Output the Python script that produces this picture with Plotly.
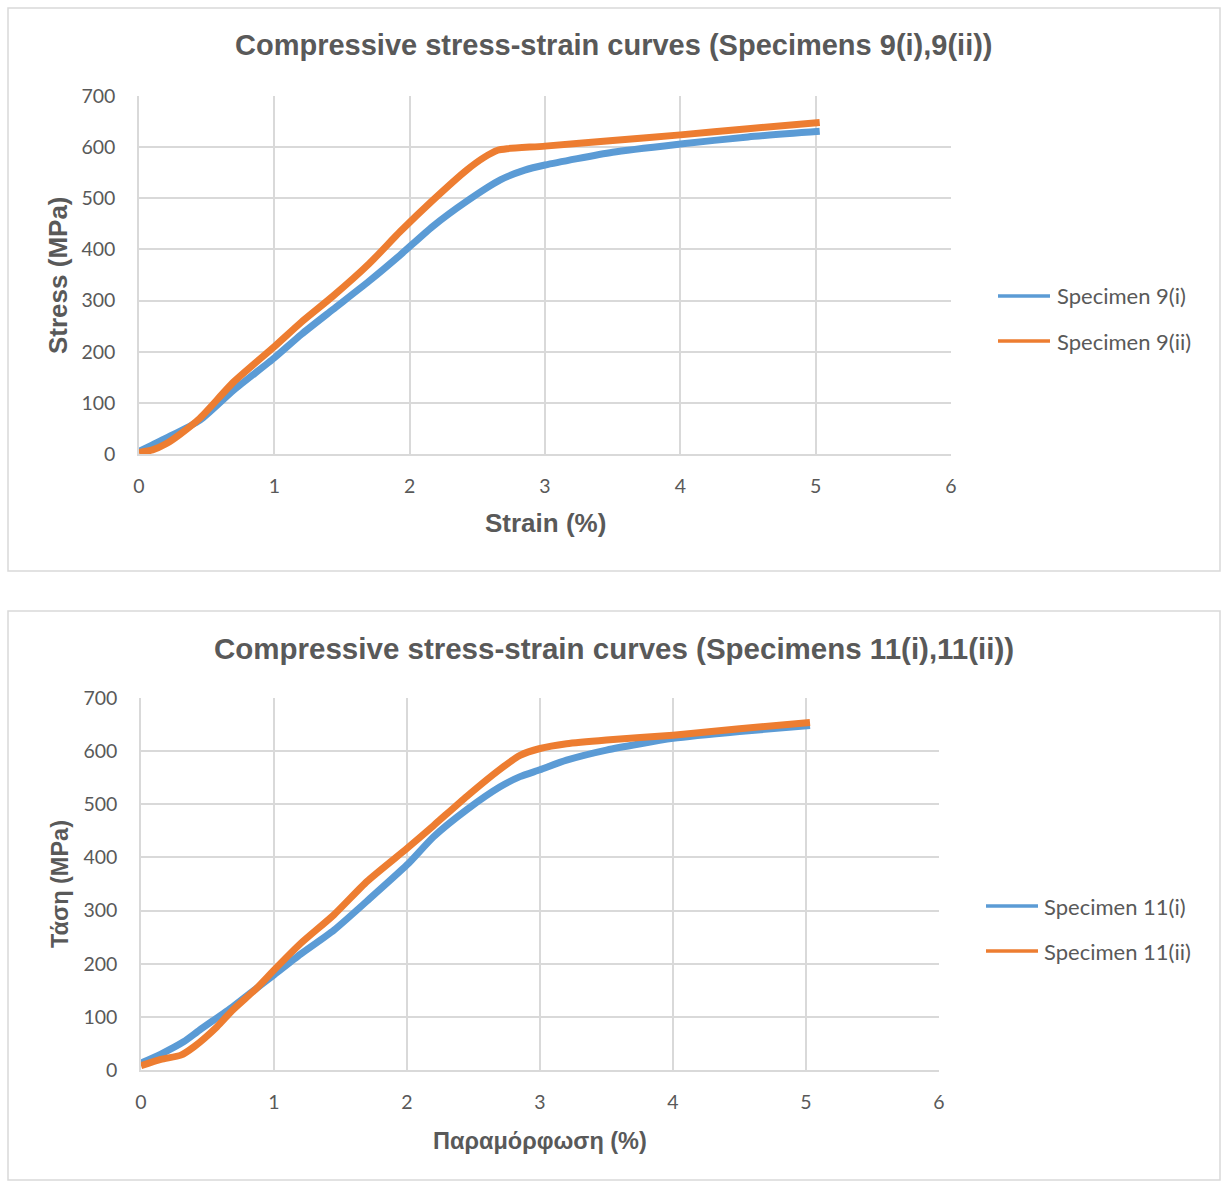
import plotly.graph_objects as go

# Specimen 9 series (strain %, stress MPa)
strain_9i = [0, 0.1, 0.2, 0.45, 0.7, 1.0, 1.2, 1.43, 1.7, 1.93, 2.17, 2.42, 2.67, 2.85, 3.0, 3.5, 4.0, 4.5, 5.03]
stress_9i = [5, 18, 31, 66, 125, 188, 234, 282, 338, 389, 445, 494, 536, 555, 565, 590, 606, 620, 631]

strain_9ii = [0, 0.1, 0.2, 0.3, 0.45, 0.7, 1.0, 1.2, 1.43, 1.7, 1.93, 2.17, 2.42, 2.55, 2.65, 2.72, 3.0, 3.5, 4.0, 4.5, 5.03]
stress_9ii = [3, 8, 20, 38, 70, 141, 210, 258, 308, 372, 435, 496, 555, 580, 594, 597, 602, 613, 624, 636, 648]

# Specimen 11 series (strain %, stress MPa)
strain_11i = [0, 0.15, 0.32, 0.44, 0.69, 0.87, 1.0, 1.2, 1.45, 1.7, 2.0, 2.2, 2.45, 2.7, 2.85, 3.0, 3.2, 3.5, 4.0, 4.5, 5.03]
stress_11i = [13, 30, 53, 75, 119, 154, 179, 218, 263, 318, 386, 439, 490, 533, 552, 565, 583, 602, 624, 637, 648]

strain_11ii = [0, 0.15, 0.3, 0.4, 0.57, 0.69, 0.87, 1.0, 1.2, 1.45, 1.7, 2.0, 2.2, 2.45, 2.7, 2.85, 3.0, 3.2, 3.5, 4.0, 4.5, 5.03]
stress_11ii = [8, 20, 28, 44, 81, 113, 154, 188, 238, 292, 355, 417, 460, 515, 566, 592, 605, 614, 621, 630, 642, 654]

x_ticks = [0, 1, 2, 3, 4, 5, 6]
y_ticks = [0, 100, 200, 300, 400, 500, 600, 700]

names_top = ["Specimen 9(i)", "Specimen 9(ii)"]
names_bottom = ["Specimen 11(i)", "Specimen 11(ii)"]
title_top = "Compressive stress-strain curves (Specimens 9(i),9(ii))"
title_bottom = "Compressive stress-strain curves (Specimens 11(i),11(ii))"

W, H = 1221, 1182
BLUE = "#5B9BD5"
ORANGE = "#ED7D31"
TEXT = "#595959"
GRID = "#D9D9D9"
LIGHT_FONT = "Lato, Carlito, sans-serif"
TICK_FONT = dict(family=LIGHT_FONT, size=19.5, color=TEXT)
BOLD_FONT = "Liberation Sans, Arial, sans-serif"


def px(x):
    return x / W


def py(y):
    return 1 - y / H


fig = go.Figure()

line_kw = dict(mode="lines", line_shape="spline", showlegend=False, hoverinfo="skip")
fig.add_trace(go.Scatter(x=strain_9i, y=stress_9i, name=names_top[0],
                         line=dict(color=BLUE, width=7, smoothing=0.6), xaxis="x", yaxis="y", **line_kw))
fig.add_trace(go.Scatter(x=strain_9ii, y=stress_9ii, name=names_top[1],
                         line=dict(color=ORANGE, width=7, smoothing=0.6), xaxis="x", yaxis="y", **line_kw))
fig.add_trace(go.Scatter(x=strain_11i, y=stress_11i, name=names_bottom[0],
                         line=dict(color=BLUE, width=7, smoothing=0.6), xaxis="x2", yaxis="y2", **line_kw))
fig.add_trace(go.Scatter(x=strain_11ii, y=stress_11ii, name=names_bottom[1],
                         line=dict(color=ORANGE, width=7, smoothing=0.6), xaxis="x2", yaxis="y2", **line_kw))

axis_common = dict(showgrid=True, gridcolor=GRID, gridwidth=1.5, zeroline=False,
                   showline=True, linecolor=GRID, linewidth=1.5, ticks="",
                   tickfont=TICK_FONT, fixedrange=True, automargin=False)

# plot-area pixel boxes: (left, right, top, bottom)
top_box = (139, 951, 96, 454)
bot_box = (141, 939, 698, 1070)

fig.update_layout(
    width=W, height=H,
    margin=dict(l=0, r=0, t=0, b=0, pad=0, autoexpand=False),
    paper_bgcolor="white", plot_bgcolor="white",
    showlegend=False,
    xaxis=dict(domain=[px(top_box[0]), px(top_box[1])], range=[0, 6], tickvals=x_ticks,
               anchor="y", ticklabelstandoff=14, **axis_common),
    yaxis=dict(domain=[py(top_box[3]), py(top_box[2])], range=[0, 700], tickvals=y_ticks,
               anchor="x", ticklabelstandoff=18, **axis_common),
    xaxis2=dict(domain=[px(bot_box[0]), px(bot_box[1])], range=[0, 6], tickvals=x_ticks,
                anchor="y2", ticklabelstandoff=14, **axis_common),
    yaxis2=dict(domain=[py(bot_box[3]), py(bot_box[2])], range=[0, 700], tickvals=y_ticks,
                anchor="x2", ticklabelstandoff=18, **axis_common),
)

shapes = []
annotations = []

# chart frames
for (x0, y0, x1, y1) in [(8, 8, 1220, 571), (8, 611, 1220, 1180)]:
    shapes.append(dict(type="rect", xref="paper", yref="paper",
                       x0=px(x0), x1=px(x1), y0=py(y1), y1=py(y0),
                       line=dict(color=GRID, width=1.5), fillcolor="rgba(0,0,0,0)", layer="below"))

# titles
for text, yc, size in [(title_top, 45, 29), (title_bottom, 648, 29.5)]:
    annotations.append(dict(text=text, xref="paper", yref="paper", x=px(614), y=py(yc),
                            showarrow=False, xanchor="center", yanchor="middle",
                            font=dict(family=BOLD_FONT, size=size, color=TEXT, weight="bold")))

# axis titles
axis_titles = [
    ("Strain (%)", 545, 523, 0, 26),
    ("Stress (MPa)", 58, 275, -90, 26),
    ("Παραμόρφωση (%)", 540, 1141, 0, 23.5),
    ("Τάση (MPa)", 60, 884, -90, 23.5),
]
for text, xc, yc, ang, size in axis_titles:
    annotations.append(dict(text=text, xref="paper", yref="paper", x=px(xc), y=py(yc),
                            showarrow=False, xanchor="center", yanchor="middle", textangle=ang,
                            font=dict(family=BOLD_FONT, size=size, color=TEXT, weight="bold")))

# legends
legend_items = [
    (names_top[0], BLUE, 998, 1050, 1055, 296),
    (names_top[1], ORANGE, 998, 1050, 1055, 341),
    (names_bottom[0], BLUE, 986, 1038, 1042, 906),
    (names_bottom[1], ORANGE, 986, 1038, 1042, 951),
]
for name, color, lx0, lx1, tx, yc in legend_items:
    shapes.append(dict(type="line", xref="paper", yref="paper",
                       x0=px(lx0), x1=px(lx1), y0=py(yc), y1=py(yc),
                       line=dict(color=color, width=3.5)))
    annotations.append(dict(text=name, xref="paper", yref="paper", x=px(tx), y=py(yc),
                            showarrow=False, xanchor="left", yanchor="middle",
                            font=dict(family=LIGHT_FONT, size=22, color=TEXT)))

fig.update_layout(shapes=shapes, annotations=annotations)

fig.write_html("out.html", config={"displayModeBar": False})
